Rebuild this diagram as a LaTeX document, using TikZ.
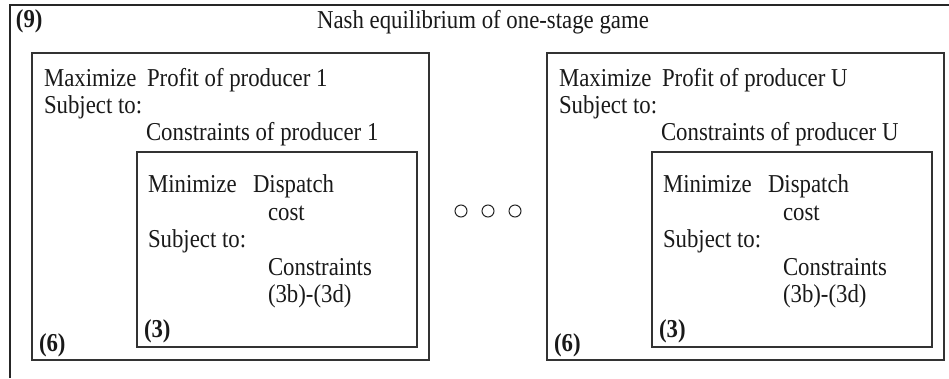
\documentclass[tikz,border=0pt]{standalone}
\usepackage{graphicx}
\usepackage{fontspec}
\setmainfont{Liberation Serif}
\newcommand\vst[1]{\scalebox{1}[1.13]{#1}}
\begin{document}
\begin{tikzpicture}[x=1pt,y=-1pt,
  every node/.style={inner sep=0pt,outer sep=0pt,font=\fontsize{22.8}{27}\selectfont,text=black!90},
  txt/.style={anchor=base west},
  tag/.style={anchor=base west,font=\fontsize{22.8}{27}\selectfont\bfseries},
  boxline/.style={draw=black!80,line width=1.4pt},
  dot/.style={circle,draw=black!85,line width=1pt,minimum size=12pt}]
\useasboundingbox (0,0) rectangle (949,378);
% outer frame (open at right and bottom)
\coordinate (ob) at (10,378);
\coordinate (otl) at (10,5);
\coordinate (otr) at (949,5);
\draw[black!85,line width=1.6pt] (ob) -- (otl) -- (otr);
\node[tag] (t9) at (16,27) {\vst{(9)}};
\node[anchor=base] (title) at (483,28) {\vst{Nash equilibrium of one-stage game}};
% left producer
\node[boxline,anchor=north west,minimum width=397pt,minimum height=307pt] (P1) at (32,53) {};
\node[boxline,anchor=north west,minimum width=280pt,minimum height=195pt] (D1) at (137,152) {};
\node[txt] (max1) at (44,86) {\vst{Maximize}};
\node[txt] (obj1) at (147,86) {\vst{Profit of producer 1}};
\node[txt] (st1) at (44,113) {\vst{Subject to:}};
\node[txt] (con1) at (146,140) {\vst{Constraints of producer 1}};
\node[txt] (min1) at (148,192) {\vst{Minimize}};
\node[txt] (dis1) at (253,192) {\vst{Dispatch}};
\node[txt] (cost1) at (268,220) {\vst{cost}};
\node[txt] (sti1) at (148,247) {\vst{Subject to:}};
\node[txt] (cons1) at (268,275) {\vst{Constraints}};
\node[txt] (rng1) at (268,302) {\vst{(3b)-(3d)}};
\node[tag] (t31) at (144,337) {\vst{(3)}};
\node[tag] (t61) at (39,351) {\vst{(6)}};
% dots
\node[dot] (c1) at (461,211) {};
\node[dot] (c2) at (488,211) {};
\node[dot] (c3) at (515,211) {};
% right producer
\node[boxline,anchor=north west,minimum width=397pt,minimum height=307pt] (PU) at (547,53) {};
\node[boxline,anchor=north west,minimum width=280pt,minimum height=195pt] (DU) at (652,152) {};
\node[txt] (maxU) at (559,86) {\vst{Maximize}};
\node[txt] (objU) at (662,86) {\vst{Profit of producer U}};
\node[txt] (stU) at (559,113) {\vst{Subject to:}};
\node[txt] (conU) at (661,140) {\vst{Constraints of producer U}};
\node[txt] (minU) at (663,192) {\vst{Minimize}};
\node[txt] (disU) at (768,192) {\vst{Dispatch}};
\node[txt] (costU) at (783,220) {\vst{cost}};
\node[txt] (stiU) at (663,247) {\vst{Subject to:}};
\node[txt] (consU) at (783,275) {\vst{Constraints}};
\node[txt] (rngU) at (783,302) {\vst{(3b)-(3d)}};
\node[tag] (t3U) at (659,337) {\vst{(3)}};
\node[tag] (t6U) at (554,351) {\vst{(6)}};
\end{tikzpicture}
\end{document}
